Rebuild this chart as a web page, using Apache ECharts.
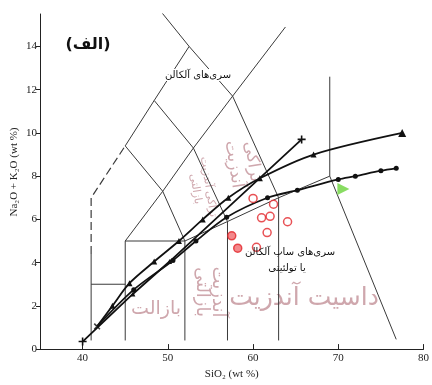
<!DOCTYPE html>
<html>
<head>
<meta charset="utf-8">
<script src="https://cdn.jsdelivr.net/npm/echarts@6/dist/echarts.min.js"></script>
<style>
  html, body {margin: 0; padding: 0; background: #fff;}
  #chart {width: 432px; height: 385px;}
</style>
</head>
<body>
<div id="chart"></div>
<script>
// TAS field boundaries, [SiO2, Na2O+K2O]
const solidLines = [
  [[41, 4.4], [41, 0.4]],
  [[41, 3], [45, 3]],
  [[45, 0.4], [45, 5], [52, 5], [52, 0.4]],
  [[45, 9.4], [48.4, 11.5], [52.5, 14]],
  [[45, 5], [49.4, 7.3], [53, 9.3], [57.6, 11.7], [63.8, 14.9]],
  [[45, 9.4], [49.4, 7.3], [52, 5]],
  [[48.4, 11.5], [53, 9.3], [57, 5.9]],
  [[52, 5], [57, 5.9], [63, 7], [69, 8]],
  [[57, 0.4], [57, 5.9]],
  [[63, 0.4], [63, 7]],
  [[48.4, 16], [52.5, 14], [57.6, 11.7], [63, 7]],
  [[69, 12.6], [69, 8], [76.8, 0.45]]
];
const dashedLines = [
  [[41, 4.4], [41, 7], [45, 9.4]]
];

// alkaline / subalkaline dividing curves
const triangleCurve = [[41.7, 1.05], [43.5, 2.0], [45.5, 3.05], [48.4, 4.05], [51.3, 5.0], [54.1, 6.0],
  [57.1, 7.0], [60.8, 7.9], [67.1, 9.0], [77.5, 10.0]];
const straightCurve = [[40, 0.35], [45.9, 2.55], [50.2, 4.05], [65.7, 9.7]];
const dotCurve = [[41.7, 1.05], [46.0, 2.75], [50.6, 4.1], [53.3, 5.0], [56.9, 6.1], [61.7, 7.0],
  [65.2, 7.35], [70.0, 7.85], [72.0, 8.0], [75.0, 8.25], [76.8, 8.36]];

// samples
const samplesOpen = [[60.0, 6.97], [62.4, 6.7], [61.0, 6.07], [62.0, 6.14], [64.05, 5.89], [61.65, 5.39], [60.4, 4.71]];
const samplesHalf = [[57.5, 5.24], [58.2, 4.67]];
const greenSample = [[70.6, 7.4]];
const startCross = [[41.7, 1.05]];

const xTicks = [40, 50, 60, 70, 80];
const yTicks = [0, 2, 4, 6, 8, 10, 12, 14];

const plus = 'path://M4,0H6V4H10V6H6V10H4V6H0V4H4Z';
const serif = '"Liberation Serif", "DejaVu Serif", serif';
const fa = '"DejaVu Sans", sans-serif';
const wm = '#cfa7ad';

const chart = echarts.init(document.getElementById('chart'));

const boundarySeries = solidLines.map(d => ({
  type: 'line', data: d, symbol: 'none', silent: true, z: 1,
  lineStyle: {color: '#3a3a3a', width: 1}
})).concat(dashedLines.map(d => ({
  type: 'line', data: d, symbol: 'none', silent: true, z: 1,
  lineStyle: {color: '#3a3a3a', width: 1.2, type: [8, 4]}
})));

chart.setOption({
  animation: false,
  grid: {left: 40, right: 4, top: 14, bottom: 27},
  xAxis: {
    type: 'value', min: 35, max: 80, interval: 5,
    splitLine: {show: false},
    axisLine: {lineStyle: {color: '#222', width: 1}},
    axisTick: {inside: true, length: 5, customValues: xTicks, lineStyle: {color: '#222'}},
    axisLabel: {customValues: xTicks, color: '#222', fontFamily: serif, fontSize: 11, margin: 4},
    name: 'SiO₂ (wt %)', nameLocation: 'middle', nameGap: 16,
    nameTextStyle: {color: '#222', fontFamily: serif, fontSize: 11}
  },
  yAxis: {
    type: 'value', min: 0, max: 15.5, interval: 2,
    splitLine: {show: false},
    axisLine: {show: true, lineStyle: {color: '#222', width: 1}},
    axisTick: {show: true, length: 4, customValues: yTicks, lineStyle: {color: '#222'}},
    axisLabel: {customValues: yTicks, color: '#222', fontFamily: serif, fontSize: 11, margin: 3}
  },
  graphic: [
    {type: 'text', x: 14, y: 172, rotation: Math.PI / 2, style: {
      text: 'Na₂O + K₂O (wt %)', font: '11px ' + serif, fill: '#222', align: 'center', verticalAlign: 'middle'}},
    {type: 'text', x: 88, y: 45, style: {
      text: '(الف)', font: 'bold 16px ' + fa, fill: '#111', align: 'center', verticalAlign: 'middle'}},
    {type: 'text', x: 198, y: 75, z: 10, style: {
      text: 'سری‌های آلکالن', font: '10px ' + fa, fill: '#111', align: 'center', verticalAlign: 'middle',
      backgroundColor: '#fff', padding: [1, 2]}},
    {type: 'text', x: 290, y: 252, z: 10, style: {
      text: 'سری‌های ساب آلکالن', font: '10px ' + fa, fill: '#111', align: 'center', verticalAlign: 'middle'}},
    {type: 'text', x: 287, y: 268, z: 10, style: {
      text: 'یا تولئیتی', font: '10px ' + fa, fill: '#111', align: 'center', verticalAlign: 'middle'}},
    // watermark field names
    {type: 'text', x: 156, y: 309, z: 0, style: {
      text: 'بازالت', font: '19px ' + fa, fill: wm, align: 'center', verticalAlign: 'middle'}},
    {type: 'text', x: 304, y: 298, z: 0, style: {
      text: 'داسیت آندزیت', font: '25px ' + fa, fill: wm, align: 'center', verticalAlign: 'middle'}},
    {type: 'text', x: 210, y: 292, z: 0, rotation: -Math.PI / 2, style: {
      text: 'آندزیت\nبازالتی', font: '18px ' + fa, fill: wm, align: 'center', verticalAlign: 'middle', lineHeight: 16}},
    {type: 'text', x: 243, y: 163, z: 0, rotation: -Math.PI / 2 * 0.9, style: {
      text: 'تراکی\nآندزیت', font: '17px ' + fa, fill: wm, align: 'center', verticalAlign: 'middle', lineHeight: 19}},
    {type: 'text', x: 202, y: 188, z: 0, rotation: -Math.PI / 2 * 0.9, style: {
      text: 'تراکی آندزیت\nبازالتی', font: '11px ' + fa, fill: wm, align: 'center', verticalAlign: 'middle', lineHeight: 13}}
  ],
  series: boundarySeries.concat([
    {
      type: 'line', smooth: 0.3, z: 3,
      data: triangleCurve.map((p, i) => ({value: p, symbol: i === 0 ? 'none' : 'triangle',
        symbolSize: i === triangleCurve.length - 1 ? 8 : 6})),
      lineStyle: {color: '#111', width: 1.8},
      itemStyle: {color: '#111'}
    },
    {
      type: 'line', z: 3,
      data: straightCurve.map((p, i) => ({value: p,
        symbol: (i === 0 || i === straightCurve.length - 1) ? plus : 'triangle',
        symbolSize: (i === 0 || i === straightCurve.length - 1) ? 8 : 5})),
      lineStyle: {color: '#111', width: 1.8},
      itemStyle: {color: '#111'}
    },
    {
      type: 'line', smooth: 0.3, z: 3,
      data: dotCurve.map((p, i) => ({value: p, symbol: i === 0 ? 'none' : 'circle', symbolSize: 5})),
      lineStyle: {color: '#111', width: 1.8},
      itemStyle: {color: '#111'}
    },
    {
      type: 'scatter', data: startCross, symbol: plus, symbolRotate: 45, symbolSize: 8, z: 4,
      itemStyle: {color: '#111'}
    },
    {
      type: 'scatter', data: samplesOpen, symbol: 'circle', symbolSize: 8, z: 5,
      itemStyle: {color: '#fff', borderColor: '#e2262b', borderWidth: 1.5}
    },
    {
      type: 'scatter', data: samplesHalf, symbol: 'circle', symbolSize: 8, z: 5,
      itemStyle: {color: '#f06a6e', borderColor: '#e2262b', borderWidth: 1.5}
    },
    {
      type: 'scatter', data: greenSample, symbol: 'triangle', symbolRotate: -90, symbolSize: 12, z: 5,
      itemStyle: {color: '#6ad33b'}
    }
  ])
});
</script>
</body>
</html>
